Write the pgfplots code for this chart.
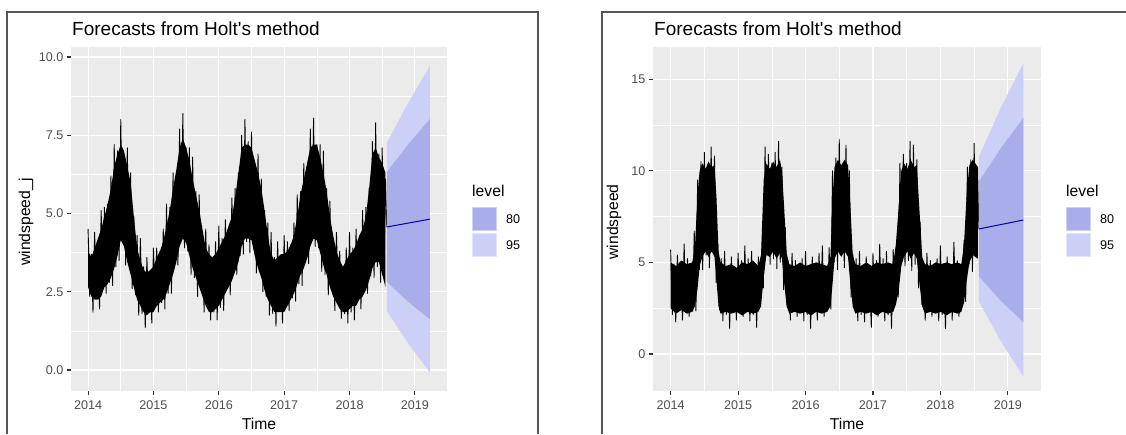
\documentclass[border=0pt]{standalone}
\usepackage{fontspec}
\setmainfont{Liberation Sans}
\usepackage{pgfplots}
\pgfplotsset{compat=1.18}
\usepackage{pgfplotstable}

\definecolor{ggbg}{RGB}{235,235,235}
\definecolor{c80}{RGB}{169,173,234}
\definecolor{c95}{RGB}{205,208,246}
\definecolor{fc}{RGB}{0,0,170}
\definecolor{tickc}{RGB}{51,51,51}
\definecolor{labc}{RGB}{77,77,77}
\definecolor{framec}{RGB}{85,85,85}

% dense core of the left series: upper edge forward, lower edge backward
\pgfplotstableread{
t v
2014.00 3.8
2014.05 3.6
2014.10 3.9
2014.15 4.2
2014.20 4.5
2014.25 4.9
2014.30 5.3
2014.35 5.8
2014.40 6.5
2014.45 6.9
2014.50 7.2
2014.55 7.0
2014.60 6.5
2014.65 6.0
2014.70 4.9
2014.75 3.9
2014.80 3.5
2014.85 3.2
2014.90 3.1
2014.95 3.2
2015.00 3.3
2015.05 3.6
2015.10 3.8
2015.15 4.1
2015.20 4.6
2015.25 5.1
2015.30 5.8
2015.35 6.4
2015.40 7.1
2015.45 7.4
2015.50 7.1
2015.55 6.7
2015.60 6.1
2015.65 5.6
2015.70 5.1
2015.75 4.5
2015.80 3.9
2015.85 3.7
2015.90 3.6
2015.95 3.7
2016.00 3.9
2016.05 4.1
2016.10 4.3
2016.15 4.6
2016.20 4.9
2016.25 5.5
2016.30 6.3
2016.35 7.1
2016.40 7.2
2016.45 7.2
2016.50 7.1
2016.55 6.7
2016.60 6.3
2016.65 5.8
2016.70 5.1
2016.75 4.3
2016.80 3.7
2016.85 3.5
2016.90 3.6
2016.95 3.7
2017.00 3.7
2017.05 3.8
2017.10 4.0
2017.15 4.3
2017.20 4.9
2017.25 5.6
2017.30 6.1
2017.35 6.6
2017.40 7.1
2017.45 7.2
2017.50 7.2
2017.55 6.8
2017.60 6.3
2017.65 5.7
2017.70 4.9
2017.75 4.3
2017.80 3.8
2017.85 3.5
2017.90 3.3
2017.95 3.5
2018.00 3.7
2018.05 3.8
2018.10 4.0
2018.15 4.3
2018.20 4.5
2018.25 4.9
2018.30 5.8
2018.35 6.9
2018.40 7.1
2018.45 6.8
2018.50 6.6
2018.55 6.3
2018.55 2.65
2018.50 3.05
2018.45 3.45
2018.40 3.45
2018.35 3.25
2018.30 2.85
2018.25 2.55
2018.20 2.35
2018.15 2.25
2018.10 2.05
2018.05 2.05
2018.00 1.95
2017.95 1.85
2017.90 1.85
2017.85 1.95
2017.80 2.15
2017.75 2.35
2017.70 2.65
2017.65 3.05
2017.60 3.35
2017.55 3.75
2017.50 4.15
2017.45 4.2
2017.40 3.95
2017.35 3.55
2017.30 3.25
2017.25 3.05
2017.20 2.75
2017.15 2.45
2017.10 2.25
2017.05 2.05
2017.00 1.85
2016.95 1.85
2016.90 1.85
2016.85 1.85
2016.80 2.05
2016.75 2.25
2016.70 2.55
2016.65 2.95
2016.60 3.25
2016.55 3.65
2016.50 4.15
2016.45 4.2
2016.40 4.2
2016.35 3.95
2016.30 3.45
2016.25 3.15
2016.20 2.85
2016.15 2.65
2016.10 2.45
2016.05 2.25
2016.00 2.05
2015.95 1.95
2015.90 1.85
2015.85 1.85
2015.80 2.05
2015.75 2.35
2015.70 2.65
2015.65 2.95
2015.60 3.25
2015.55 3.65
2015.50 4.05
2015.45 4.2
2015.40 3.95
2015.35 3.45
2015.30 3.05
2015.25 2.75
2015.20 2.45
2015.15 2.25
2015.10 2.15
2015.05 2.05
2015.00 1.85
2014.95 1.85
2014.90 1.75
2014.85 1.85
2014.80 2.05
2014.75 2.25
2014.70 2.65
2014.65 3.05
2014.60 3.45
2014.55 3.95
2014.50 4.15
2014.45 3.65
2014.40 3.25
2014.35 2.95
2014.30 2.75
2014.25 2.65
2014.20 2.35
2014.15 2.25
2014.10 2.25
2014.05 2.35
2014.00 2.65
}\lband

% left series (windspeed_j)
\pgfplotstableread{
t v
2014.000 4.5
2014.025 2.35
2014.050 3.7
2014.075 1.85
2014.100 4.4
2014.125 2.4
2014.150 4.0
2014.175 1.95
2014.200 5.1
2014.225 2.85
2014.250 5.2
2014.275 2.45
2014.300 5.3
2014.325 2.8
2014.350 6.2
2014.375 2.7
2014.400 7.2
2014.425 3.3
2014.450 7.0
2014.475 3.5
2014.500 8.0
2014.525 4.25
2014.550 6.8
2014.575 3.35
2014.600 7.1
2014.625 3.6
2014.650 6.3
2014.675 2.6
2014.700 4.9
2014.725 2.4
2014.750 4.3
2014.775 1.75
2014.800 4.2
2014.825 1.8
2014.850 3.3
2014.875 1.35
2014.900 3.6
2014.925 1.95
2014.950 3.0
2014.975 1.5
2015.000 3.9
2015.025 2.3
2015.050 3.9
2015.075 1.85
2015.100 3.8
2015.125 2.15
2015.150 4.5
2015.175 1.95
2015.200 5.3
2015.225 2.45
2015.250 5.2
2015.275 2.45
2015.300 6.3
2015.325 3.4
2015.350 6.2
2015.375 3.35
2015.400 7.7
2015.425 4.45
2015.450 8.2
2015.475 3.9
2015.500 7.1
2015.525 3.8
2015.550 7.1
2015.575 3.05
2015.600 6.8
2015.625 2.95
2015.650 5.7
2015.675 2.35
2015.700 5.6
2015.725 2.65
2015.750 4.3
2015.775 1.85
2015.800 4.5
2015.825 2.3
2015.850 4.0
2015.875 1.6
2015.900 3.6
2015.925 1.85
2015.950 4.1
2015.975 1.6
2016.000 4.6
2016.025 2.0
2016.050 4.2
2016.075 1.9
2016.100 4.8
2016.125 2.7
2016.150 4.4
2016.175 2.4
2016.200 5.5
2016.225 3.35
2016.250 5.8
2016.275 3.05
2016.300 6.3
2016.325 3.65
2016.350 7.5
2016.375 3.7
2016.400 8.0
2016.425 4.1
2016.450 7.3
2016.475 3.75
2016.500 7.6
2016.525 4.05
2016.550 6.5
2016.575 3.1
2016.600 6.9
2016.625 3.45
2016.650 6.1
2016.675 2.5
2016.700 5.1
2016.725 2.35
2016.750 4.7
2016.775 1.75
2016.800 4.4
2016.825 1.8
2016.850 3.6
2016.875 1.4
2016.900 4.1
2016.925 2.0
2016.950 3.5
2016.975 1.5
2017.000 4.3
2017.025 2.3
2017.050 4.1
2017.075 1.9
2017.100 4.0
2017.125 2.3
2017.150 4.7
2017.175 2.2
2017.200 5.6
2017.225 2.75
2017.250 5.7
2017.275 2.7
2017.300 6.6
2017.325 3.55
2017.350 6.4
2017.375 3.4
2017.400 7.7
2017.425 4.45
2017.450 8.05
2017.475 3.95
2017.500 7.2
2017.525 3.9
2017.550 7.2
2017.575 3.15
2017.600 7.0
2017.625 3.05
2017.650 5.8
2017.675 2.4
2017.700 5.4
2017.725 2.65
2017.750 4.1
2017.775 1.9
2017.800 4.4
2017.825 2.4
2017.850 3.8
2017.875 1.65
2017.900 3.3
2017.925 1.8
2017.950 3.9
2017.975 1.5
2018.000 4.4
2018.025 1.85
2018.050 3.9
2018.075 1.6
2018.100 4.5
2018.125 2.3
2018.150 4.1
2018.175 1.95
2018.200 5.1
2018.225 2.8
2018.250 5.2
2018.275 2.45
2018.300 5.8
2018.325 3.0
2018.350 7.3
2018.375 2.95
2018.400 7.9
2018.425 3.3
2018.450 6.9
2018.475 2.8
2018.500 7.1
2018.525 3.0
2018.550 6.1
2018.570 4.57
}\lser

% dense core of the right series: upper edge forward, lower edge backward
\pgfplotstableread{
t v
2014.00 5.0
2014.08 4.8
2014.16 5.1
2014.24 4.9
2014.32 5.0
2014.36 5.8
2014.40 8.8
2014.43 10.0
2014.47 10.4
2014.52 10.1
2014.56 10.5
2014.61 10.2
2014.65 10.3
2014.68 8.5
2014.71 5.6
2014.74 5.0
2014.82 4.8
2014.90 4.9
2014.98 4.7
2015.06 5.0
2015.14 4.9
2015.22 5.1
2015.30 4.8
2015.34 5.4
2015.38 9.5
2015.42 10.4
2015.47 10.1
2015.52 10.5
2015.57 10.2
2015.62 10.6
2015.65 10.0
2015.68 8.2
2015.72 5.5
2015.76 4.9
2015.84 4.8
2015.92 5.0
2016.00 4.8
2016.08 4.9
2016.16 5.0
2016.24 4.9
2016.32 4.8
2016.37 5.3
2016.40 8.5
2016.43 10.2
2016.48 10.6
2016.53 10.3
2016.58 10.6
2016.63 10.3
2016.66 8.5
2016.70 5.4
2016.74 4.9
2016.82 4.8
2016.90 5.0
2016.98 4.8
2017.06 5.0
2017.14 4.9
2017.22 5.0
2017.30 4.9
2017.34 6.0
2017.38 8.0
2017.42 10.0
2017.46 10.4
2017.51 10.1
2017.56 10.6
2017.61 10.2
2017.65 10.3
2017.69 7.8
2017.73 5.3
2017.77 4.9
2017.85 4.8
2017.93 5.0
2018.01 4.9
2018.09 5.0
2018.17 4.9
2018.25 5.0
2018.31 4.9
2018.35 6.0
2018.39 8.8
2018.43 10.3
2018.48 10.6
2018.555 10.2
2018.555 5.2
2018.48 5.4
2018.43 5.0
2018.39 4.0
2018.35 2.8
2018.31 2.3
2018.25 2.2
2018.17 2.3
2018.09 2.1
2018.01 2.3
2017.93 2.2
2017.85 2.3
2017.77 2.2
2017.73 2.6
2017.69 3.8
2017.65 5.2
2017.61 5.5
2017.56 5.2
2017.51 5.6
2017.46 5.3
2017.42 4.8
2017.38 3.4
2017.34 2.7
2017.30 2.3
2017.22 2.2
2017.14 2.3
2017.06 2.1
2016.98 2.3
2016.90 2.2
2016.82 2.3
2016.74 2.2
2016.70 2.6
2016.66 4.0
2016.63 5.3
2016.58 5.6
2016.53 5.3
2016.48 5.6
2016.43 5.2
2016.40 3.8
2016.37 2.6
2016.32 2.3
2016.24 2.2
2016.16 2.3
2016.08 2.1
2016.00 2.3
2015.92 2.2
2015.84 2.3
2015.76 2.2
2015.72 2.6
2015.68 4.0
2015.65 5.2
2015.62 5.5
2015.57 5.2
2015.52 5.6
2015.47 5.3
2015.42 5.4
2015.38 4.2
2015.34 2.6
2015.30 2.3
2015.22 2.2
2015.14 2.3
2015.06 2.1
2014.98 2.3
2014.90 2.2
2014.82 2.3
2014.74 2.2
2014.71 2.6
2014.68 4.0
2014.65 5.3
2014.61 5.6
2014.56 5.3
2014.52 5.6
2014.47 5.3
2014.43 4.8
2014.40 3.6
2014.36 2.6
2014.32 2.3
2014.24 2.2
2014.16 2.4
2014.08 2.2
2014.00 2.5
}\rband

% right series (windspeed)
\pgfplotstableread{
t v
2014.000 5.7
2014.025 2.15
2014.050 4.9
2014.075 1.75
2014.100 5.4
2014.125 2.55
2014.150 4.5
2014.175 1.85
2014.200 6.0
2014.225 2.75
2014.250 5.2
2014.275 2.05
2014.300 4.7
2014.325 2.35
2014.350 6.7
2014.375 2.35
2014.400 9.5
2014.425 4.6
2014.450 10.5
2014.475 4.6
2014.500 11.0
2014.525 5.4
2014.550 10.1
2014.575 4.7
2014.600 11.3
2014.625 5.6
2014.650 10.8
2014.675 3.9
2014.700 6.0
2014.725 2.4
2014.750 5.2
2014.775 1.8
2014.800 5.6
2014.825 2.15
2014.850 4.8
2014.875 1.4
2014.900 5.3
2014.925 2.55
2014.950 4.4
2014.975 1.85
2015.000 5.5
2015.025 2.75
2015.050 5.1
2015.075 2.05
2015.100 5.9
2015.125 2.35
2015.150 5.2
2015.175 1.8
2015.200 5.6
2015.225 2.15
2015.250 4.8
2015.275 1.45
2015.300 5.3
2015.325 2.7
2015.350 5.4
2015.375 3.6
2015.400 11.3
2015.425 5.6
2015.450 10.9
2015.475 4.9
2015.500 10.4
2015.525 5.2
2015.550 11.0
2015.575 4.65
2015.600 11.6
2015.625 5.0
2015.650 10.2
2015.675 3.5
2015.700 6.9
2015.725 2.7
2015.750 4.4
2015.775 1.85
2015.800 5.5
2015.825 2.75
2015.850 5.1
2015.875 2.05
2015.900 4.6
2015.925 2.35
2015.950 5.2
2015.975 1.8
2016.000 5.6
2016.025 2.15
2016.050 4.8
2016.075 1.4
2016.100 5.3
2016.125 2.55
2016.150 4.4
2016.175 1.85
2016.200 5.5
2016.225 2.75
2016.250 5.9
2016.275 2.05
2016.300 4.6
2016.325 2.35
2016.350 5.8
2016.375 2.45
2016.400 10.0
2016.425 5.0
2016.450 10.7
2016.475 4.6
2016.500 11.7
2016.525 5.4
2016.550 10.3
2016.575 4.7
2016.600 11.4
2016.625 5.6
2016.650 10.0
2016.675 3.1
2016.700 5.5
2016.725 2.4
2016.750 5.2
2016.775 1.8
2016.800 5.6
2016.825 2.15
2016.850 4.8
2016.875 1.75
2016.900 5.3
2016.925 2.55
2016.950 4.4
2016.975 1.45
2017.000 5.5
2017.025 2.75
2017.050 5.1
2017.075 2.05
2017.100 6.0
2017.125 2.35
2017.150 5.2
2017.175 1.8
2017.200 5.6
2017.225 2.15
2017.250 4.8
2017.275 1.4
2017.300 5.7
2017.325 3.1
2017.350 6.0
2017.375 3.1
2017.400 10.4
2017.425 5.5
2017.450 10.9
2017.475 4.8
2017.500 10.4
2017.525 5.1
2017.550 11.6
2017.575 4.55
2017.600 11.4
2017.625 4.9
2017.650 10.6
2017.675 3.6
2017.700 7.2
2017.725 2.7
2017.750 4.4
2017.775 1.85
2017.800 5.5
2017.825 2.75
2017.850 5.1
2017.875 2.05
2017.900 4.6
2017.925 2.35
2017.950 5.2
2017.975 1.8
2018.000 5.9
2018.025 2.15
2018.050 4.8
2018.075 1.4
2018.100 5.3
2018.125 2.55
2018.150 4.4
2018.175 1.85
2018.200 6.1
2018.225 2.75
2018.250 5.1
2018.275 2.05
2018.300 4.6
2018.325 2.6
2018.350 6.2
2018.375 2.85
2018.400 10.2
2018.425 4.9
2018.450 10.6
2018.475 4.5
2018.500 11.5
2018.525 5.3
2018.550 10.2
2018.570 6.82
}\rser

\pgfplotsset{
  gg/.style={
    scale only axis,
    height=344pt,
    axis background/.style={fill=ggbg},
    axis line style={draw=none},
    tick align=outside,
    tick pos=left,
    major tick length=4pt,
    minor tick length=0pt,
    tick style={tickc, line width=1.1pt},
    tick label style={font=\fontsize{12.6}{14}\selectfont, labc},
    /pgf/number format/assume math mode=true,
    xtick={2014,2015,2016,2017,2018,2019},
    xticklabel style={/pgf/number format/1000 sep={}, yshift=-2pt},
    xmin=2013.7385, xmax=2019.4915,
    clip=true,
  },
  ser/.style={black, line width=0.9pt, line join=round},
}
\tikzset{
  gmaj/.style={white, line width=1.1pt},
  gmin/.style={white, line width=0.55pt},
}

\newcommand{\ggtitle}{\fontsize{19}{21}\selectfont}
\newcommand{\ggaxt}{\fontsize{15.7}{17}\selectfont}
\newcommand{\gglab}{\fontsize{12.6}{14}\selectfont}

\begin{document}
\begin{tikzpicture}
\path[use as bounding box] (0,0) rectangle (1126pt,434pt);
\draw[framec, line width=1.2pt] (7pt,0) -- (7pt,422pt) -- (538pt,422pt) -- (538pt,0);
\draw[framec, line width=1.2pt] (602pt,0) -- (602pt,422pt) -- (1126pt,422pt);

% ---------------- left panel ----------------
\begin{axis}[gg, at={(71pt,43pt)}, anchor=south west, width=376pt,
  ymin=-0.67, ymax=10.32,
  ytick={0,2.5,5,7.5,10},
  yticklabel style={/pgf/number format/.cd, fixed, fixed zerofill, precision=1}]
% grid (behind the data)
\draw[gmin] (axis cs:2014.5,-0.67) -- (axis cs:2014.5,10.32);
\draw[gmin] (axis cs:2015.5,-0.67) -- (axis cs:2015.5,10.32);
\draw[gmin] (axis cs:2016.5,-0.67) -- (axis cs:2016.5,10.32);
\draw[gmin] (axis cs:2017.5,-0.67) -- (axis cs:2017.5,10.32);
\draw[gmin] (axis cs:2018.5,-0.67) -- (axis cs:2018.5,10.32);
\draw[gmin] (axis cs:2013.7385,1.25) -- (axis cs:2019.4915,1.25);
\draw[gmin] (axis cs:2013.7385,3.75) -- (axis cs:2019.4915,3.75);
\draw[gmin] (axis cs:2013.7385,6.25) -- (axis cs:2019.4915,6.25);
\draw[gmin] (axis cs:2013.7385,8.75) -- (axis cs:2019.4915,8.75);
\draw[gmaj] (axis cs:2014,-0.67) -- (axis cs:2014,10.32);
\draw[gmaj] (axis cs:2015,-0.67) -- (axis cs:2015,10.32);
\draw[gmaj] (axis cs:2016,-0.67) -- (axis cs:2016,10.32);
\draw[gmaj] (axis cs:2017,-0.67) -- (axis cs:2017,10.32);
\draw[gmaj] (axis cs:2018,-0.67) -- (axis cs:2018,10.32);
\draw[gmaj] (axis cs:2019,-0.67) -- (axis cs:2019,10.32);
\draw[gmaj] (axis cs:2013.7385,0) -- (axis cs:2019.4915,0);
\draw[gmaj] (axis cs:2013.7385,2.5) -- (axis cs:2019.4915,2.5);
\draw[gmaj] (axis cs:2013.7385,5) -- (axis cs:2019.4915,5);
\draw[gmaj] (axis cs:2013.7385,7.5) -- (axis cs:2019.4915,7.5);
\draw[gmaj] (axis cs:2013.7385,10) -- (axis cs:2019.4915,10);
% data
\addplot[fill=black, draw=none] table[x=t, y=v] {\lband};
\addplot[ser] table[x=t, y=v] {\lser};
\addplot[fill=c95, draw=none] coordinates {
 (2018.57,7.25)(2018.90,8.545)(2019.23,9.72)
 (2019.23,-0.08)(2018.90,0.845)(2018.57,1.89)};
\addplot[fill=c80, draw=none] coordinates {
 (2018.57,6.32)(2018.90,7.215)(2019.23,8.02)
 (2019.23,1.62)(2018.90,2.175)(2018.57,2.82)};
\addplot[fc, line width=1pt] coordinates {(2018.57,4.57)(2019.23,4.82)};
\end{axis}

% ---------------- right panel ----------------
\begin{axis}[gg, at={(653pt,43pt)}, anchor=south west, width=388pt,
  ymin=-2.02, ymax=16.75,
  ytick={0,5,10,15}]
% grid (behind the data)
\draw[gmin] (axis cs:2014.5,-2.02) -- (axis cs:2014.5,16.75);
\draw[gmin] (axis cs:2015.5,-2.02) -- (axis cs:2015.5,16.75);
\draw[gmin] (axis cs:2016.5,-2.02) -- (axis cs:2016.5,16.75);
\draw[gmin] (axis cs:2017.5,-2.02) -- (axis cs:2017.5,16.75);
\draw[gmin] (axis cs:2018.5,-2.02) -- (axis cs:2018.5,16.75);
\draw[gmin] (axis cs:2013.7385,2.5) -- (axis cs:2019.4915,2.5);
\draw[gmin] (axis cs:2013.7385,7.5) -- (axis cs:2019.4915,7.5);
\draw[gmin] (axis cs:2013.7385,12.5) -- (axis cs:2019.4915,12.5);
\draw[gmaj] (axis cs:2014,-2.02) -- (axis cs:2014,16.75);
\draw[gmaj] (axis cs:2015,-2.02) -- (axis cs:2015,16.75);
\draw[gmaj] (axis cs:2016,-2.02) -- (axis cs:2016,16.75);
\draw[gmaj] (axis cs:2017,-2.02) -- (axis cs:2017,16.75);
\draw[gmaj] (axis cs:2018,-2.02) -- (axis cs:2018,16.75);
\draw[gmaj] (axis cs:2019,-2.02) -- (axis cs:2019,16.75);
\draw[gmaj] (axis cs:2013.7385,0) -- (axis cs:2019.4915,0);
\draw[gmaj] (axis cs:2013.7385,5) -- (axis cs:2019.4915,5);
\draw[gmaj] (axis cs:2013.7385,10) -- (axis cs:2019.4915,10);
\draw[gmaj] (axis cs:2013.7385,15) -- (axis cs:2019.4915,15);
% data
\addplot[fill=black, draw=none] table[x=t, y=v] {\rband};
\addplot[ser] table[x=t, y=v] {\rser};
\addplot[fill=c95, draw=none] coordinates {
 (2018.57,10.77)(2018.90,13.465)(2019.23,15.86)
 (2019.23,-1.24)(2018.90,0.665)(2018.57,2.87)};
\addplot[fill=c80, draw=none] coordinates {
 (2018.57,9.40)(2018.90,11.245)(2019.23,12.89)
 (2019.23,1.73)(2018.90,2.885)(2018.57,4.24)};
\addplot[fc, line width=1pt] coordinates {(2018.57,6.82)(2019.23,7.31)};
\end{axis}

% ---------------- titles and labels ----------------
\node[anchor=base west, inner sep=0pt, font=\ggtitle] at (72pt,398pt) {Forecasts from Holt\textquotesingle s method};
\node[anchor=base west, inner sep=0pt, font=\ggtitle] at (654pt,398pt) {Forecasts from Holt\textquotesingle s method};
\node[anchor=base, inner sep=0pt, font=\ggaxt] at (259pt,5pt) {Time};
\node[anchor=base, inner sep=0pt, font=\ggaxt] at (847pt,5pt) {Time};
\node[rotate=90, inner sep=0pt, font=\ggaxt] at (26pt,212pt) {windspeed\_j};
\node[rotate=90, inner sep=0pt, font=\ggaxt] at (614pt,212pt) {windspeed};

% ---------------- legends ----------------
\node[anchor=base west, inner sep=0pt, font=\ggaxt] at (472pt,237.3pt) {level};
\filldraw[fill=c80, draw=c80!55!white, line width=1pt] (472.5pt,203.5pt) rectangle (496.5pt,226.5pt);
\filldraw[fill=c95, draw=c95!55!white, line width=1pt] (472.5pt,177.5pt) rectangle (496.5pt,200.5pt);
\node[anchor=west, inner sep=0pt, font=\gglab] at (506pt,215pt) {80};
\node[anchor=west, inner sep=0pt, font=\gglab] at (506pt,189pt) {95};

\node[anchor=base west, inner sep=0pt, font=\ggaxt] at (1066pt,237.3pt) {level};
\filldraw[fill=c80, draw=c80!55!white, line width=1pt] (1066.5pt,203.5pt) rectangle (1090.5pt,226.5pt);
\filldraw[fill=c95, draw=c95!55!white, line width=1pt] (1066.5pt,177.5pt) rectangle (1090.5pt,200.5pt);
\node[anchor=west, inner sep=0pt, font=\gglab] at (1100pt,215pt) {80};
\node[anchor=west, inner sep=0pt, font=\gglab] at (1100pt,189pt) {95};
\end{tikzpicture}
\end{document}
